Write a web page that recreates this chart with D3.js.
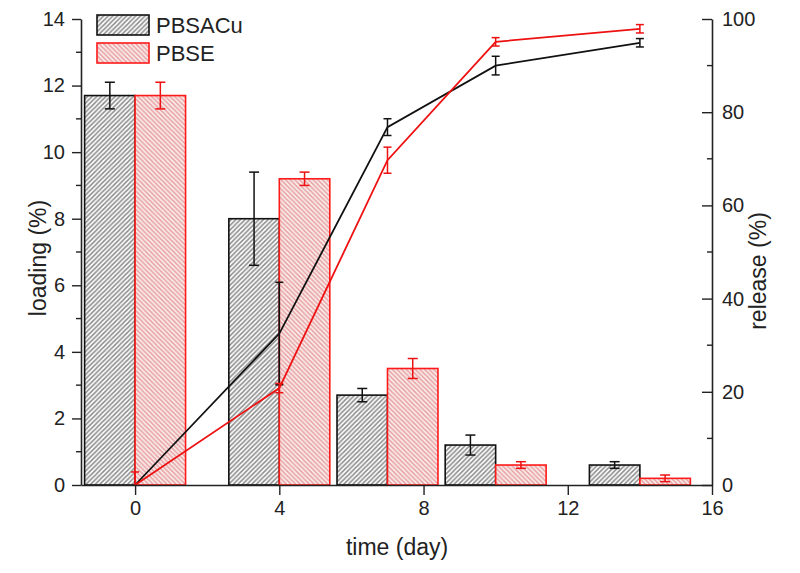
<!DOCTYPE html>
<html>
<head>
<meta charset="utf-8">
<script src="https://cdn.jsdelivr.net/npm/d3@7"></script>
<style>
  html, body { margin: 0; padding: 0; background: #fff; }
  svg { display: block; font-family: "Liberation Sans", Arial, sans-serif; }
</style>
</head>
<body>
<svg id="chart" width="800" height="573"></svg>
<script>
// ---- data ----
const days = [0, 4, 7, 10, 14];
const seriesNames = ["PBSACu", "PBSE"];
const loadingPBSACu = [11.7, 8.0, 2.7, 1.2, 0.6];
const loadingPBSACuErr = [0.4, 1.4, 0.2, 0.3, 0.1];
const loadingPBSE = [11.7, 9.2, 3.5, 0.6, 0.2];
const loadingPBSEErr = [0.4, 0.2, 0.3, 0.1, 0.1];
const releasePBSACu = [0, 32.5, 76.8, 90.0, 94.9];
const releasePBSACuErr = [0, 11, 1.8, 2.0, 0.9];
const releasePBSE = [0, 20.8, 69.7, 95.1, 97.9];
const releasePBSEErr = [2.8, 1.0, 2.8, 0.9, 0.9];
const xTicks = [0, 4, 8, 12, 16];
const yLeftTicks = [0, 2, 4, 6, 8, 10, 12, 14];
const yLeftMinor = [1, 3, 5, 7, 9, 11, 13];
const yRightTicks = [0, 20, 40, 60, 80, 100];
const yRightMinor = [10, 30, 50, 70, 90];

(function () {
// ---- layout ----
const svg = d3.select("#chart");
const pLeft = 81, pRight = 712, pTop = 19, pBottom = 485;
const x = d3.scaleLinear().domain([-1.5, 16]).range([pLeft, pRight]);
const yL = d3.scaleLinear().domain([0, 14]).range([pBottom, pTop]);
const yR = d3.scaleLinear().domain([0, 100]).range([pBottom, pTop]);
const barW = 1.4; // in days
const colors = ["#111111", "#ee1111"];

// patterns
const defs = svg.append("defs");
const s = 4.6;
const p1 = defs.append("pattern").attr("id", "hatchBlack").attr("patternUnits", "userSpaceOnUse")
  .attr("width", s).attr("height", s);
p1.append("rect").attr("width", s).attr("height", s).attr("fill", "#ffffff");
p1.append("path").attr("d", `M0,${s} L${s},0 M-1,1 L1,-1 M${s-1},${s+1} L${s+1},${s-1}`)
  .attr("stroke", "#8c8c8c").attr("stroke-width", 1.5);
const p2 = defs.append("pattern").attr("id", "hatchRed").attr("patternUnits", "userSpaceOnUse")
  .attr("width", s).attr("height", s);
p2.append("rect").attr("width", s).attr("height", s).attr("fill", "#fbeeee");
p2.append("path").attr("d", `M0,0 L${s},${s} M-1,${s-1} L1,${s+1} M${s-1},-1 L${s+1},1`)
  .attr("stroke", "#e8a2a2").attr("stroke-width", 1.5);
const fills = ["url(#hatchBlack)", "url(#hatchRed)"];

const loadings = [loadingPBSACu, loadingPBSE];
const loadingErrs = [loadingPBSACuErr, loadingPBSEErr];
const releases = [releasePBSACu, releasePBSE];
const releaseErrs = [releasePBSACuErr, releasePBSEErr];

// bars
seriesNames.forEach((name, si) => {
  const g = svg.append("g").attr("class", "bars-" + name);
  const off = si === 0 ? -barW : 0;
  g.selectAll("rect").data(days).join("rect")
    .attr("x", d => x(d + off))
    .attr("width", x(barW) - x(0))
    .attr("y", (d, i) => yL(loadings[si][i]))
    .attr("height", (d, i) => yL(0) - yL(loadings[si][i]))
    .attr("fill", fills[si])
    .attr("stroke", si === 0 ? "#111" : "#ff1a1a")
    .attr("stroke-width", 1.6);
});
// bar error bars
seriesNames.forEach((name, si) => {
  const g = svg.append("g").attr("stroke", colors[si]).attr("stroke-width", 1.5).attr("fill", "none");
  const off = si === 0 ? -barW / 2 : barW / 2;
  days.forEach((d, i) => {
    const cx = x(d + off);
    const y1 = yL(loadings[si][i] + loadingErrs[si][i]);
    const y2 = yL(loadings[si][i] - loadingErrs[si][i]);
    g.append("line").attr("x1", cx).attr("x2", cx).attr("y1", y1).attr("y2", y2);
    g.append("line").attr("x1", cx - 5).attr("x2", cx + 5).attr("y1", y1).attr("y2", y1);
    g.append("line").attr("x1", cx - 5).attr("x2", cx + 5).attr("y1", y2).attr("y2", y2);
  });
});

// release lines
seriesNames.forEach((name, si) => {
  const line = d3.line().x((d, i) => x(days[i])).y(d => yR(d));
  svg.append("path").datum(releases[si]).attr("d", line)
    .attr("fill", "none").attr("stroke", colors[si]).attr("stroke-width", 1.8);
  const g = svg.append("g").attr("stroke", colors[si]).attr("stroke-width", 1.5);
  days.forEach((d, i) => {
    const e = releaseErrs[si][i];
    if (!e) return;
    const cx = x(d);
    const y1 = yR(releases[si][i] + e);
    const y2 = yR(Math.max(0, releases[si][i] - e));
    g.append("line").attr("x1", cx).attr("x2", cx).attr("y1", y1).attr("y2", y2);
    g.append("line").attr("x1", cx - 4).attr("x2", cx + 4).attr("y1", y1).attr("y2", y1);
    if (releases[si][i] - e > 0)
      g.append("line").attr("x1", cx - 4).attr("x2", cx + 4).attr("y1", y2).attr("y2", y2);
  });
});

// axes
const axisStyle = g => {
  g.selectAll("path.domain").attr("stroke", "#222").attr("stroke-width", 1.6);
  g.selectAll(".tick line").attr("stroke", "#222").attr("stroke-width", 1.4);
  g.selectAll("text").attr("fill", "#222").attr("font-size", 20)
    .attr("font-family", '"Liberation Sans", Arial, sans-serif');
};
svg.append("g").attr("transform", `translate(0,${pBottom})`)
  .call(d3.axisBottom(x).tickValues(xTicks).tickSizeInner(10).tickSizeOuter(0).tickPadding(6))
  .call(axisStyle);
const gl = svg.append("g").attr("transform", `translate(${pLeft},0)`)
  .call(d3.axisLeft(yL).tickValues(yLeftTicks).tickSizeInner(9).tickSizeOuter(0).tickPadding(7))
  .call(axisStyle);
gl.selectAll(".minor").data(yLeftMinor).join("line").attr("class", "minor")
  .attr("x1", -5).attr("x2", 0).attr("y1", d => yL(d)).attr("y2", d => yL(d))
  .attr("stroke", "#222").attr("stroke-width", 1.4);
const gr = svg.append("g").attr("transform", `translate(${pRight},0)`)
  .call(d3.axisRight(yR).tickValues(yRightTicks).tickSizeInner(-10).tickSizeOuter(0).tickPadding(10))
  .call(axisStyle);
gr.selectAll(".minor").data(yRightMinor).join("line").attr("class", "minor")
  .attr("x1", -5).attr("x2", 0).attr("y1", d => yR(d)).attr("y2", d => yR(d))
  .attr("stroke", "#222").attr("stroke-width", 1.4);

// axis titles
svg.append("text").attr("x", 397).attr("y", 555).attr("text-anchor", "middle")
  .attr("font-size", 23).attr("fill", "#222").text("time (day)");
svg.append("text").attr("transform", "translate(46,258) rotate(-90)").attr("text-anchor", "middle")
  .attr("font-size", 23).attr("fill", "#222").text("loading (%)");
svg.append("text").attr("transform", "translate(766,271) rotate(-90)").attr("text-anchor", "middle")
  .attr("font-size", 23).attr("fill", "#222").text("release (%)");

// legend
const lg = svg.append("g");
seriesNames.forEach((name, si) => {
  const ly = 15 + si * 28;
  lg.append("rect").attr("x", 97).attr("y", ly).attr("width", 52).attr("height", 20)
    .attr("fill", fills[si]).attr("stroke", si === 0 ? "#111" : "#ff1a1a").attr("stroke-width", 1.6);
  lg.append("text").attr("x", 156).attr("y", ly + 18).attr("font-size", 22).attr("fill", "#222").text(name);
});
})();
</script>
</body>
</html>
